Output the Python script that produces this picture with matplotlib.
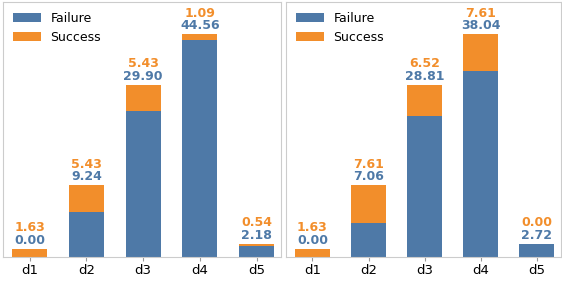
import numpy as np
import matplotlib
matplotlib.use("Agg")
import matplotlib.pyplot as plt

# datos
categorias = ["d1", "d2", "d3", "d4", "d5"]
fallo_izq = [0.00, 9.24, 29.90, 44.56, 2.18]
exito_izq = [1.63, 5.43, 5.43, 1.09, 0.54]
fallo_der = [0.00, 7.06, 28.81, 38.04, 2.72]
exito_der = [1.63, 7.61, 6.52, 7.61, 0.00]

azul = "#4e79a7"
naranja = "#f28e2b"
gris = "#cccccc"

fig = plt.figure(figsize=(5.62, 2.82), dpi=100)
ax1 = fig.add_axes([3/562, 25/282, 278/562, 255/282])
ax2 = fig.add_axes([286/562, 25/282, 275/562, 255/282])

ymax = max(np.array(fallo_izq) + np.array(exito_izq)) * 1.145

for ax, fallo, exito in [(ax1, fallo_izq, exito_izq), (ax2, fallo_der, exito_der)]:
    x = np.arange(len(categorias))
    ax.bar(x, fallo, width=0.62, color=azul, label="Failure")
    ax.bar(x, exito, width=0.62, bottom=fallo, color=naranja, label="Success")
    for i in range(len(categorias)):
        total = fallo[i] + exito[i]
        ax.annotate(f"{fallo[i]:.2f}", (x[i], total), xytext=(0, 1.5), textcoords="offset points",
                    ha="center", va="bottom", color=azul, fontsize=9, fontweight="bold")
        ax.annotate(f"{exito[i]:.2f}", (x[i], total), xytext=(0, 10.5), textcoords="offset points",
                    ha="center", va="bottom", color=naranja, fontsize=9, fontweight="bold")
    ax.set_xlim(-0.47, 4.43)
    ax.set_ylim(0, ymax)
    ax.set_xticks(x)
    ax.set_xticklabels(categorias, fontsize=9.5)
    ax.set_yticks([])
    ax.tick_params(axis="x", length=3, color="#999999", pad=2)
    for s in ax.spines.values():
        s.set_color(gris)
    ax.legend(loc="upper left", frameon=False, fontsize=9, handlelength=2.2,
              borderaxespad=0.35, borderpad=0.45, labelspacing=0.45)

plt.savefig("out.png", dpi=100)
